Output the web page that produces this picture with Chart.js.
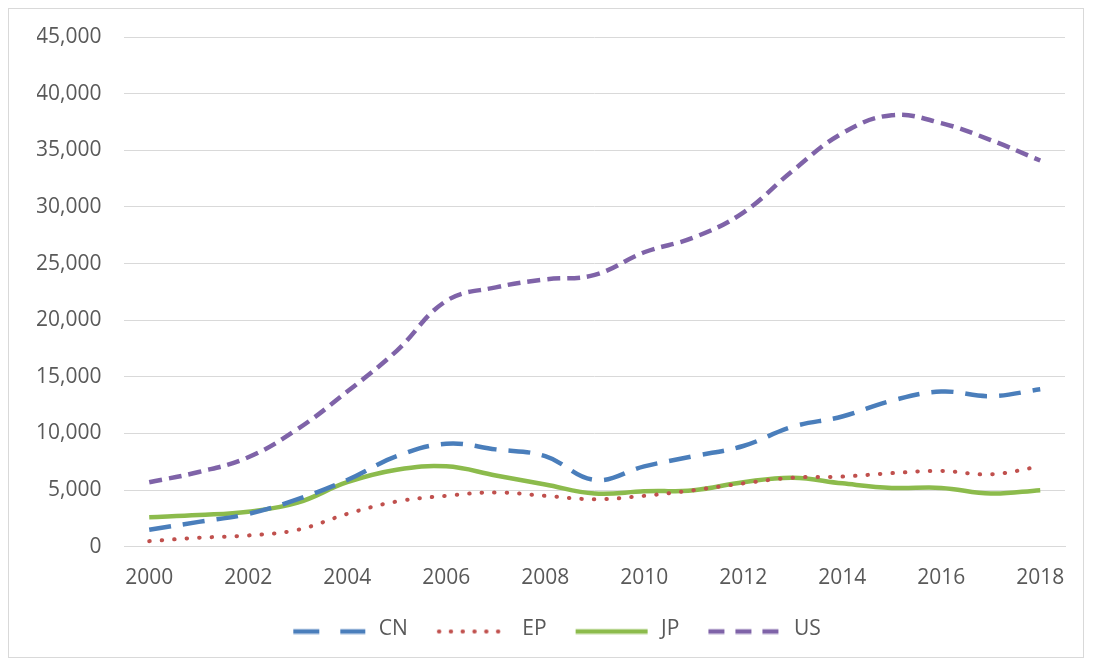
<!DOCTYPE html>
<html>
<head>
<meta charset="utf-8">
<script src="https://cdn.jsdelivr.net/npm/chart.js@4"></script>
<style>
  html, body { margin: 0; padding: 0; background: #ffffff; }
  #wrap {
    position: absolute; left: 8px; top: 8px;
    width: 1076px; height: 650px;
    border: 1px solid #d9d9d9; box-sizing: border-box;
    background: #ffffff;
  }
  canvas { display: block; }
</style>
</head>
<body>
<div id="wrap"><canvas id="line-chart"></canvas></div>
<script>
const years = ["2000", "2001", "2002", "2003", "2004", "2005", "2006", "2007", "2008", "2009",
  "2010", "2011", "2012", "2013", "2014", "2015", "2016", "2017", "2018"];

const cnValues = [1500, 2200, 2900, 4200, 5900, 8000, 9100, 8600, 8000, 5900,
  7100, 8000, 8900, 10600, 11500, 12900, 13700, 13300, 13900];
const epValues = [500, 800, 1000, 1500, 2900, 4000, 4500, 4800, 4500, 4200,
  4500, 5000, 5600, 6100, 6200, 6500, 6700, 6400, 7100];
const jpValues = [2600, 2800, 3100, 3900, 5700, 6800, 7100, 6300, 5500, 4700,
  4900, 5000, 5700, 6100, 5600, 5200, 5200, 4700, 5000];
const usValues = [5700, 6600, 7900, 10400, 13700, 17300, 21700, 22900, 23600, 24000,
  26000, 27300, 29500, 33200, 36500, 38100, 37400, 35900, 34100];

const yTicks = [0, 5000, 10000, 15000, 20000, 25000, 30000, 35000, 40000, 45000];

const fontFamily = "'Open Sans', 'DejaVu Sans', sans-serif";
const fontSize = 21;
const sampleLeft = 12;
const sampleLen = 72;
const sampleRight = 3;
const sampleWidth = sampleLeft + sampleLen + sampleRight;

// small canvases used as legend samples so the dashes show up in the legend
function legendSample(color, width, dash, cap) {
  const c = document.createElement("canvas");
  c.width = sampleWidth;
  c.height = 10;
  const g = c.getContext("2d");
  g.strokeStyle = color;
  g.lineWidth = width;
  g.lineCap = cap || "butt";
  g.setLineDash(dash);
  g.beginPath();
  g.moveTo(sampleLeft + (cap === "round" ? 2 : 0), 7);
  g.lineTo(sampleLeft + sampleLen, 7);
  g.stroke();
  return c;
}

const config = {
  type: "line",
  data: {
    labels: years,
    datasets: [{
      label: "CN",
      data: cnValues,
      borderColor: "#4a7ebb",
      borderWidth: 4.5,
      borderDash: [22, 12],
      tension: 0.4,
      pointRadius: 0,
      pointStyle: legendSample("#4a7ebb", 4.5, [26, 21]),
      fill: false,
    },
    {
      label: "EP",
      data: epValues,
      borderColor: "#c0504d",
      borderWidth: 4,
      borderDash: [0.5, 12],
      borderCapStyle: "round",
      tension: 0.4,
      pointRadius: 0,
      pointStyle: legendSample("#c0504d", 4, [0.5, 11.3], "round"),
      fill: false,
    },
    {
      label: "JP",
      data: jpValues,
      borderColor: "#8cbb4c",
      borderWidth: 4.5,
      tension: 0.4,
      pointRadius: 0,
      pointStyle: legendSample("#8cbb4c", 4.5, []),
      fill: false,
    },
    {
      label: "US",
      data: usValues,
      borderColor: "#7f63a8",
      borderWidth: 4.5,
      borderDash: [13, 7],
      tension: 0.4,
      pointRadius: 0,
      pointStyle: legendSample("#7f63a8", 4.5, [16, 11]),
      fill: false,
    }],
  },
  options: {
    responsive: true,
    maintainAspectRatio: false,
    animation: false,
    layout: {
      padding: { left: 28, right: 18, top: 28, bottom: 7 },
    },
    plugins: {
      tooltip: { enabled: false },
      legend: {
        position: "bottom",
        labels: {
          usePointStyle: true,
          pointStyleWidth: sampleWidth,
          boxHeight: 10,
          padding: 17,
          color: "#595959",
          font: { family: fontFamily, size: fontSize },
        },
      },
    },
    scales: {
      x: {
        offset: true,
        grid: { display: false },
        border: { display: true, color: "#d9d9d9" },
        afterFit: function (axis) {
          axis.paddingLeft = 0;
          axis.paddingRight = 0;
        },
        ticks: {
          color: "#595959",
          padding: 11,
          maxRotation: 0,
          autoSkip: false,
          font: { family: fontFamily, size: fontSize },
          callback: function (value, index) {
            return index % 2 === 0 ? years[index] : "";
          },
        },
      },
      y: {
        min: 0,
        max: 45000,
        afterBuildTicks: function (axis) {
          axis.ticks = yTicks.map(v => ({ value: v }));
        },
        afterFit: function (axis) {
          axis.paddingTop = 0;
          axis.paddingBottom = 0;
          // labels may hang into the left padding, keeps the plot where it was
          axis.width -= 24;
        },
        grid: { color: "#d9d9d9", drawTicks: false },
        border: { display: false },
        ticks: {
          color: "#595959",
          padding: 23,
          font: { family: fontFamily, size: fontSize },
          callback: function (value) {
            return value.toLocaleString("en-US");
          },
        },
      },
    },
  },
};

const ctx = document.getElementById("line-chart").getContext("2d");
const lineChart = new Chart(ctx, config);
</script>
</body>
</html>
